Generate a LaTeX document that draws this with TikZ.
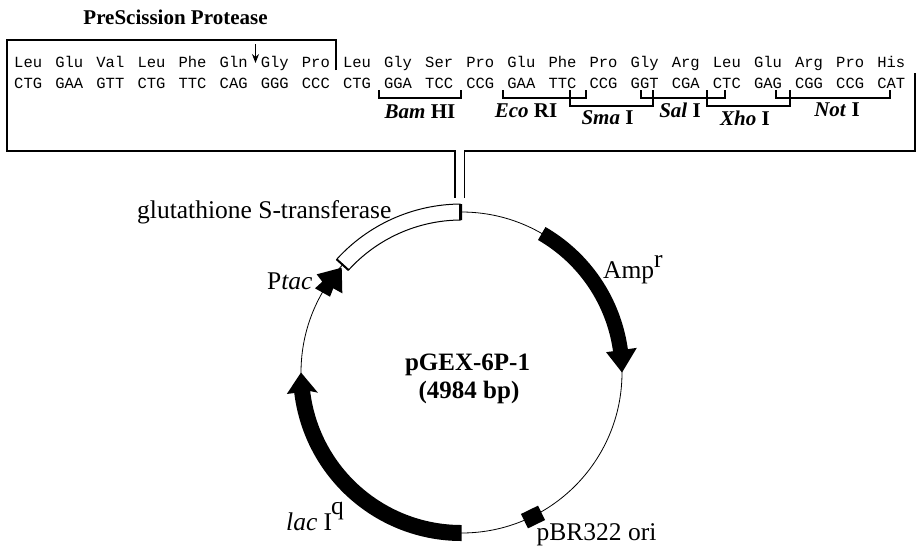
\documentclass[tikz,border=0pt]{standalone}
\usepackage{fontspec}
\setmainfont{Liberation Serif}
\setmonofont{Liberation Mono}
\usetikzlibrary{arrows.meta,calc}
\begin{document}
\begin{tikzpicture}[
            x=1pt, y=-1pt,
            codon/.style={font=\fontsize{15.5}{15.5}\ttfamily, inner sep=0pt, anchor=base west},
            site/.style={font=\fontsize{21}{21}\selectfont\bfseries, inner sep=0pt},
            label/.style={font=\fontsize{25.5}{25.5}\selectfont, inner sep=0pt},
            title/.style={font=\fontsize{25}{25}\selectfont\bfseries, inner sep=0pt, anchor=base},
            frame/.style={line width=1.6pt},
            bracket/.style={line width=1.1pt},
            backbone/.style={line width=0.8pt},
            gene/.style={fill=black, draw=none}
        ]
        \useasboundingbox (0,0) rectangle (917,547);
        \coordinate (ctr) at (461.5,372.5);

        % sequence box
        \coordinate (topend) at (336,70);
        \coordinate (leftin) at (455,198);
        \coordinate (rightin) at (464.5,198);
        \coordinate (rightend) at (915,73);
        \draw[frame] (topend) |- (7,40) |- (leftin |- 0,151) -- (leftin);
        \draw[frame] (rightin) -- (rightin |- 0,151) -| (rightend);

        \node[inner sep=0pt, font=\fontsize{21}{21}\selectfont\bfseries] (protease) at (175.5,17) {PreScission Protease};

        \foreach \i/\aa/\nt in {0/Leu/CTG, 1/Glu/GAA, 2/Val/GTT, 3/Leu/CTG, 4/Phe/TTC, 5/Gln/CAG,
                6/Gly/GGG, 7/Pro/CCC, 8/Leu/CTG, 9/Gly/GGA, 10/Ser/TCC, 11/Pro/CCG, 12/Glu/GAA,
                13/Phe/TTC, 14/Pro/CCG, 15/Gly/GGT, 16/Arg/CGA, 17/Leu/CTC, 18/Glu/GAG, 19/Arg/CGG,
                20/Pro/CCG, 21/His/CAT} {
            \node[codon] (aa\i) at (14+41.1*\i,67) {\aa};
            \node[codon] (nt\i) at (14+41.1*\i,88) {\nt};
        }

        % cleavage arrow
        \coordinate (cutstart) at (255.5,44);
        \coordinate (cutend) at (255.5,63);
        \draw[-{Stealth[length=9pt,width=7pt]}, line width=1.4pt] (cutstart) -- (cutend);

        % restriction sites
        \draw[bracket] (379,90) |- (461,98) -- (461,90);
        \draw[bracket] (503,90) |- (586,98) -- (586,90);
        \draw[bracket] (570,90) |- (653,106) -- (653,90);
        \draw[bracket] (641,90) |- (725,98) -- (725,90);
        \draw[bracket] (707,90) |- (790,106) -- (790,90);
        \draw[bracket] (776,90) |- (890,98) -- (890,90);
        \node[site] (bam) at (420,112) {\textit{Bam} HI};
        \node[site] (eco) at (526,111) {\textit{Eco} RI};
        \node[site] (sma) at (607.5,118) {\textit{Sma} I};
        \node[site] (sal) at (680,110) {\textit{Sal} I};
        \node[site] (xho) at (745,118) {\textit{Xho} I};
        \node[site] (not) at (837,110) {\textit{Not} I};

        % plasmid (y axis points down, so angles are negative)
        \draw[backbone] (ctr) circle (160.5);

        % Amp
        \fill[gene] ($(ctr)+(-60:153)$) arc (-60:-8:153) -- ($(ctr)+(-8:146)$)
            -- ($(ctr)+(0:160.5)$) -- ($(ctr)+(-8:177)$) -- ($(ctr)+(-8:168)$) arc (-8:-60:168) -- cycle;

        % lac
        \fill[gene] ($(ctr)+(90:152.5)$) arc (90:173:152.5) -- ($(ctr)+(172:145)$)
            -- ($(ctr)+(180:160.5)$) -- ($(ctr)+(173:176)$) -- ($(ctr)+(173:168.5)$) arc (173:90:168.5) -- cycle;

        % tac
        \fill[gene] (341.7,267.7) -- (316.7,274.3) -- (322.3,281.7) -- (315,288.3) -- (330,296.7)
            -- (333.3,288.3) -- (342.3,293.3) -- cycle;

        % GST
        \filldraw[fill=white, draw=black, line width=1pt] ($(ctr)+(-90.5:152.5)$) arc (-90.5:-137.8:152.5)
            -- ($(ctr)+(-137.8:168.5)$) arc (-137.8:-90.5:168.5) -- cycle;
        \draw[line width=3pt] ($(ctr)+(-90.3:152.5)$) -- ($(ctr)+(-90.3:168.5)$);
        \draw[line width=2pt] ($(ctr)+(-137.8:152.5)$) -- ($(ctr)+(-137.8:168.5)$);

        % ori
        \fill[gene, rotate around={26:(533,517)}] (523.5,509) rectangle (542.5,525);

        \node[label, anchor=base west] (gst) at (137,218) {glutathione S-transferase};
        \node[label, anchor=base west] (amp) at (603,278) {Amp\raisebox{11pt}{r}};
        \node[label, anchor=base west] (ptac) at (267,289) {P\textit{tac}};
        \node[label, anchor=base west] (laci) at (286,530.5) {\textit{lac} I\kern-1pt\raisebox{16pt}{q}};
        \node[label, anchor=base west] (ori) at (536.5,540) {pBR322 ori};
        \node[title] (name) at (467.5,370) {pGEX-6P-1};
        \node[title] (size) at (469,398) {(4984 bp)};
    \end{tikzpicture}
\end{document}
